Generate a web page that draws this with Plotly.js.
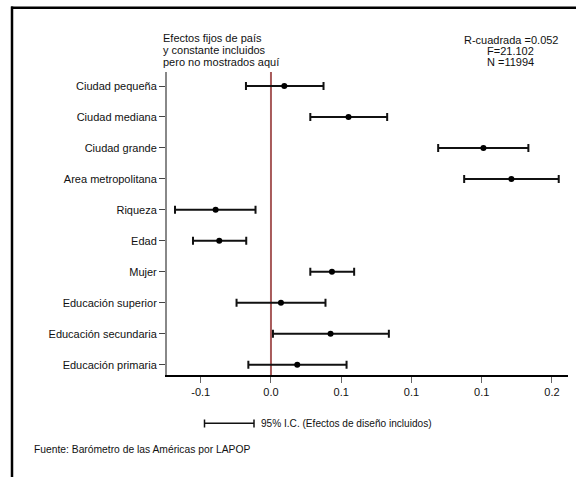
<!DOCTYPE html>
<html>
<head>
<meta charset="utf-8">
<script src="https://cdn.plot.ly/plotly-3.0.1.min.js"></script>
<style>html,body{margin:0;padding:0;background:#fff;}#chart{width:576px;height:477px;}</style>
</head>
<body>
<div id="chart"></div>
<script>
// ---- data ----
const categories = ["Ciudad pequeña","Ciudad mediana","Ciudad grande","Area metropolitana","Riqueza","Edad","Mujer","Educación superior","Educación secundaria","Educación primaria"];
const coef  = [0.0095, 0.0552, 0.1512, 0.1711, -0.0394, -0.0368, 0.0434, 0.0071, 0.0424, 0.0187];
const ciLow = [-0.0178, 0.0280, 0.1190, 0.1375, -0.0683, -0.0555, 0.0280, -0.0245, 0.0014, -0.0161];
const ciHigh= [0.0374, 0.0827, 0.1832, 0.2048, -0.0110, -0.0176, 0.0592, 0.0388, 0.0839, 0.0538];
const xTickVals = [-0.05, 0, 0.05, 0.1, 0.15, 0.2];
const xTickText = ["-0.1","0.0","0.1","0.1","0.1","0.2"];
const noteLeft = ["Efectos fijos de país","y constante incluidos","pero no mostrados aquí"];
const noteRight = ["R-cuadrada =0.052","F=21.102","N =11994"];
const legendText = "95% I.C. (Efectos de diseño incluidos)";
const sourceText = "Fuente: Barómetro de las Américas por LAPOP";

// ---- geometry helpers ----
const W=576, H=477, L=167, R=8, T=72, B=102;
const pw=W-L-R, ph=H-T-B;
const px = x => (x-L)/pw;
const py = y => (H-B-y)/ph;

const idx = categories.map((c,i)=>i);

const trace = {
  type:'scatter', mode:'markers',
  x: coef, y: idx,
  marker:{color:'#000', size:6},
  error_x:{type:'data', symmetric:false,
    array: coef.map((v,i)=>ciHigh[i]-v),
    arrayminus: coef.map((v,i)=>v-ciLow[i]),
    color:'#111', thickness:2, width:4},
  hoverinfo:'skip', showlegend:false
};

const ann = [];
noteLeft.forEach((t,i)=>ann.push({text:t, xref:'paper', yref:'paper', x:px(160.5), y:py([37.7,50,61.7][i]), xanchor:'left', yanchor:'middle', showarrow:false, font:{size:11, color:'#111'}}));
noteRight.forEach((t,i)=>ann.push({text:t, xref:'paper', yref:'paper', x:px(510.5), y:py([40,51.2,62.4][i]), xanchor:'center', yanchor:'middle', showarrow:false, font:{size:11, color:'#111'}}));
ann.push({text:legendText, xref:'paper', yref:'paper', x:px(258.5), y:py(423.3), xanchor:'left', yanchor:'middle', showarrow:false, font:{size:10.1, color:'#111'}});
ann.push({text:sourceText, xref:'paper', yref:'paper', x:px(32), y:py(449.3), xanchor:'left', yanchor:'middle', showarrow:false, font:{size:10.3, color:'#111'}});

const shapes = [
  {type:'line', xref:'x', yref:'paper', x0:0, x1:0, y0:0, y1:1, line:{color:'#a85a5a', width:2}, layer:'below'},
  {type:'line', xref:'paper', yref:'paper', x0:px(11), x1:px(585), y0:py(7.8), y1:py(7.8), line:{color:'#000', width:2.5}},
  {type:'line', xref:'paper', yref:'paper', x0:px(12), x1:px(12), y0:py(6.6), y1:py(490), line:{color:'#000', width:2.5}},
  {type:'line', xref:'paper', yref:'paper', x0:px(204.5), x1:px(254), y0:py(423.3), y1:py(423.3), line:{color:'#111', width:1.5}},
  {type:'line', xref:'paper', yref:'paper', x0:px(204.5), x1:px(204.5), y0:py(419.5), y1:py(427.5), line:{color:'#111', width:1.5}},
  {type:'line', xref:'paper', yref:'paper', x0:px(254), x1:px(254), y0:py(419.5), y1:py(427.5), line:{color:'#111', width:1.5}}
];

const layout = {
  width:W, height:H,
  margin:{l:L, r:R, t:T, b:B, pad:0},
  paper_bgcolor:'#fff', plot_bgcolor:'#fff',
  font:{family:'Liberation Sans, Arial, sans-serif', size:11, color:'#111'},
  xaxis:{range:[-0.074, 0.2114], tickvals:xTickVals, ticktext:xTickText, ticks:'outside', ticklen:6, tickcolor:'#666', tickwidth:1,
    showgrid:false, zeroline:false, showline:true, linecolor:'#000', linewidth:1.5, tickfont:{size:11, color:'#111'}, fixedrange:true},
  yaxis:{range:[9.333, -0.452], tickvals:idx, ticktext:categories, ticks:'outside', ticklen:6, tickcolor:'#444', tickwidth:1,
    showgrid:false, zeroline:false, showline:true, linecolor:'#888', linewidth:2, tickfont:{size:11, color:'#111'}, fixedrange:true},
  annotations:ann,
  shapes:shapes,
  showlegend:false
};

Plotly.newPlot('chart', [trace], layout, {displayModeBar:false, staticPlot:true});
</script>
</body>
</html>
